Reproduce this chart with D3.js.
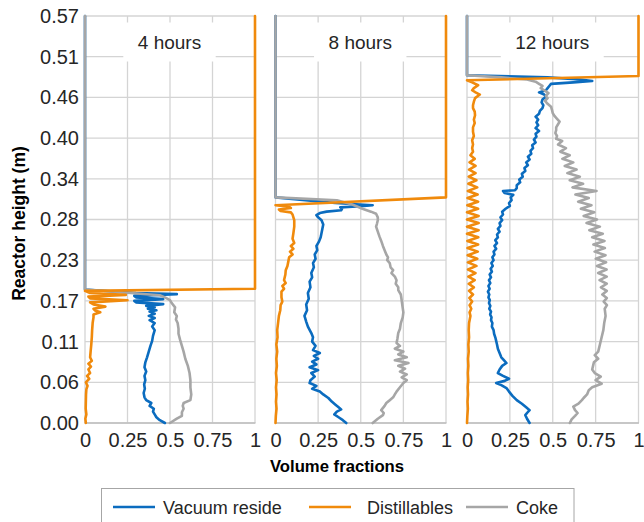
<!DOCTYPE html>
<html><head><meta charset="utf-8">
<script src="https://cdn.jsdelivr.net/npm/d3@7"></script>
<style>body{margin:0;background:#fff} svg{display:block}</style>
</head><body>
<svg id="c" width="644" height="522"></svg>
<script>
// ---------------- DATA ----------------
const panelTitles = ["4 hours", "8 hours", "12 hours"];
const seriesNames = ["Vacuum reside", "Distillables", "Coke"];
const yTickValues = [0, 0.057, 0.114, 0.171, 0.228, 0.285, 0.342, 0.399, 0.456, 0.513, 0.57];
const yTickLabels = ["0.00","0.06","0.11","0.17","0.23","0.28","0.34","0.40","0.46","0.51","0.57"];
const xTickValues = [0, 0.25, 0.5, 0.75, 1];
const xTickLabels = ["0","0.25","0.5","0.75","1"];

// [height (m), volume fraction]
const vacuum4 = [[0.57,0],[0.187,0],[0.182,0.30],[0.1805,0.54],[0.178,0.29],[0.176,0.30],[0.1735,0.46],[0.171,0.29],[0.169,0.30],[0.1665,0.46],[0.164,0.36],[0.162,0.41],[0.16,0.37],[0.158,0.42],[0.156,0.38],[0.153,0.41],[0.15,0.375],[0.147,0.41],[0.144,0.38],[0.14,0.41],[0.135,0.395],[0.13,0.41],[0.122,0.40],[0.115,0.395],[0.108,0.385],[0.1,0.375],[0.092,0.365],[0.085,0.355],[0.078,0.35],[0.072,0.36],[0.066,0.35],[0.06,0.355],[0.054,0.348],[0.048,0.352],[0.042,0.345],[0.036,0.35],[0.032,0.36],[0.028,0.39],[0.024,0.38],[0.02,0.405],[0.016,0.40],[0.012,0.41],[0.008,0.42],[0.004,0.44],[0,0.47]];
const distill4 = [[0.57,1],[0.188,1],[0.185,0],[0.182,0.03],[0.1795,0.24],[0.177,0.02],[0.1745,0.03],[0.172,0.25],[0.169,0.03],[0.166,0.05],[0.163,0.12],[0.16,0.05],[0.1575,0.06],[0.155,0.09],[0.152,0.05],[0.148,0.05],[0.14,0.045],[0.13,0.042],[0.12,0.04],[0.11,0.037],[0.1,0.033],[0.092,0.03],[0.087,0.04],[0.083,0.02],[0.079,0.035],[0.075,0.02],[0.07,0.03],[0.066,0.012],[0.062,0.025],[0.057,0.005],[0.052,0.015],[0.047,0.008],[0.04,0.006],[0.03,0.005],[0.02,0.004],[0.012,0.008],[0.006,0.002],[0,0.005]];
const coke4 = [[0.57,0],[0.187,0],[0.179,0.44],[0.176,0.47],[0.172,0.50],[0.168,0.51],[0.162,0.53],[0.155,0.525],[0.15,0.54],[0.145,0.535],[0.14,0.545],[0.132,0.55],[0.125,0.55],[0.116,0.56],[0.108,0.57],[0.1,0.58],[0.09,0.59],[0.08,0.605],[0.07,0.615],[0.06,0.62],[0.05,0.62],[0.04,0.625],[0.032,0.62],[0.028,0.58],[0.024,0.575],[0.02,0.58],[0.015,0.57],[0.01,0.57],[0.006,0.54],[0,0.50]];

const vacuum8 = [[0.57,0],[0.316,0],[0.308,0.35],[0.305,0.57],[0.3035,0.50],[0.302,0.38],[0.300,0.39],[0.298,0.385],[0.296,0.30],[0.294,0.26],[0.291,0.24],[0.288,0.25],[0.284,0.27],[0.278,0.28],[0.272,0.275],[0.266,0.27],[0.26,0.265],[0.254,0.255],[0.248,0.24],[0.242,0.245],[0.236,0.23],[0.23,0.235],[0.224,0.22],[0.218,0.225],[0.21,0.21],[0.204,0.215],[0.198,0.20],[0.19,0.205],[0.182,0.19],[0.174,0.195],[0.166,0.18],[0.158,0.185],[0.15,0.17],[0.142,0.18],[0.135,0.19],[0.126,0.21],[0.12,0.22],[0.114,0.215],[0.108,0.235],[0.102,0.22],[0.098,0.26],[0.094,0.225],[0.09,0.25],[0.086,0.215],[0.082,0.24],[0.078,0.20],[0.074,0.25],[0.07,0.21],[0.065,0.23],[0.06,0.205],[0.056,0.20],[0.052,0.24],[0.048,0.215],[0.044,0.26],[0.04,0.28],[0.035,0.31],[0.03,0.33],[0.026,0.35],[0.022,0.37],[0.019,0.385],[0.016,0.36],[0.012,0.345],[0.008,0.37],[0.004,0.395],[0,0.415]];
const distill8 = [[0.57,1],[0.316,1],[0.305,0],[0.303,0.08],[0.301,0.09],[0.299,0.02],[0.297,0.03],[0.295,0.09],[0.292,0.1],[0.288,0.105],[0.284,0.11],[0.275,0.11],[0.266,0.105],[0.258,0.10],[0.252,0.11],[0.248,0.09],[0.244,0.105],[0.24,0.085],[0.236,0.1],[0.232,0.08],[0.226,0.075],[0.22,0.07],[0.214,0.06],[0.208,0.058],[0.2,0.05],[0.196,0.06],[0.192,0.04],[0.188,0.05],[0.184,0.035],[0.176,0.035],[0.17,0.04],[0.165,0.03],[0.158,0.028],[0.15,0.02],[0.14,0.015],[0.13,0.01],[0.12,0.012],[0.11,0.005],[0.1,0.01],[0.09,0.005],[0.08,0.008],[0.07,0.003],[0.06,0.007],[0.05,0.003],[0.04,0.006],[0.03,0.003],[0.02,0.006],[0.01,0.002],[0,0]];
const coke8 = [[0.57,0],[0.316,0],[0.312,0.36],[0.306,0.45],[0.300,0.51],[0.296,0.56],[0.293,0.59],[0.288,0.60],[0.284,0.60],[0.279,0.595],[0.275,0.59],[0.268,0.60],[0.261,0.61],[0.255,0.62],[0.248,0.63],[0.242,0.64],[0.236,0.65],[0.232,0.66],[0.228,0.655],[0.224,0.67],[0.218,0.675],[0.214,0.69],[0.21,0.68],[0.205,0.70],[0.2,0.71],[0.195,0.705],[0.19,0.72],[0.186,0.72],[0.18,0.735],[0.172,0.74],[0.163,0.745],[0.155,0.75],[0.148,0.746],[0.14,0.735],[0.132,0.73],[0.126,0.72],[0.118,0.715],[0.112,0.71],[0.108,0.73],[0.104,0.70],[0.1,0.75],[0.096,0.72],[0.092,0.77],[0.088,0.70],[0.084,0.78],[0.08,0.72],[0.076,0.76],[0.072,0.73],[0.068,0.77],[0.064,0.74],[0.06,0.77],[0.056,0.75],[0.05,0.73],[0.044,0.71],[0.04,0.70],[0.036,0.69],[0.032,0.67],[0.028,0.65],[0.024,0.64],[0.018,0.62],[0.014,0.635],[0.011,0.63],[0.006,0.60],[0,0.57]];

const vacuum12 = [[0.57,0],[0.487,0],[0.484,0.47],[0.481,0.66],[0.479,0.73],[0.477,0.62],[0.475,0.49],[0.472,0.48],[0.469,0.47],[0.466,0.46],[0.463,0.42],[0.46,0.45],[0.457,0.46],[0.453,0.44],[0.449,0.435],[0.445,0.445],[0.441,0.44],[0.437,0.425],[0.433,0.42],[0.429,0.40],[0.425,0.415],[0.421,0.405],[0.417,0.415],[0.413,0.40],[0.409,0.42],[0.405,0.40],[0.401,0.405],[0.397,0.39],[0.393,0.40],[0.389,0.38],[0.385,0.385],[0.381,0.37],[0.377,0.375],[0.373,0.355],[0.369,0.365],[0.365,0.345],[0.361,0.355],[0.357,0.335],[0.353,0.34],[0.349,0.32],[0.345,0.325],[0.341,0.305],[0.337,0.31],[0.333,0.29],[0.329,0.29],[0.326,0.28],[0.325,0.21],[0.322,0.22],[0.3195,0.27],[0.316,0.255],[0.312,0.26],[0.308,0.245],[0.304,0.25],[0.3,0.225],[0.296,0.205],[0.292,0.21],[0.288,0.195],[0.284,0.205],[0.28,0.19],[0.276,0.195],[0.272,0.18],[0.268,0.19],[0.264,0.175],[0.26,0.18],[0.256,0.165],[0.252,0.175],[0.248,0.16],[0.244,0.17],[0.24,0.155],[0.236,0.16],[0.232,0.148],[0.228,0.155],[0.224,0.142],[0.22,0.15],[0.216,0.138],[0.212,0.145],[0.208,0.132],[0.204,0.14],[0.2,0.128],[0.196,0.136],[0.192,0.125],[0.188,0.132],[0.184,0.122],[0.18,0.13],[0.176,0.125],[0.172,0.133],[0.168,0.128],[0.164,0.136],[0.16,0.13],[0.156,0.14],[0.152,0.135],[0.148,0.143],[0.144,0.14],[0.14,0.148],[0.135,0.145],[0.13,0.155],[0.125,0.158],[0.12,0.165],[0.115,0.17],[0.11,0.175],[0.104,0.18],[0.098,0.19],[0.092,0.20],[0.088,0.215],[0.084,0.23],[0.08,0.205],[0.075,0.19],[0.07,0.18],[0.066,0.21],[0.062,0.245],[0.059,0.22],[0.056,0.17],[0.053,0.2],[0.049,0.23],[0.044,0.245],[0.038,0.265],[0.032,0.29],[0.027,0.32],[0.022,0.345],[0.018,0.365],[0.014,0.35],[0.011,0.34],[0.006,0.35],[0,0.365]];
const distill12 = [[0.57,1],[0.486,1],[0.480,0],[0.477,0.03],[0.473,0.065],[0.469,0.04],[0.466,0.03],[0.463,0.05],[0.46,0.075],[0.455,0.047],[0.45,0.04],[0.445,0.035],[0.441,0.035],[0.436,0.045],[0.431,0.047],[0.425,0.04],[0.42,0.045],[0.414,0.035],[0.408,0.035],[0.402,0.04],[0.396,0.03],[0.39,0.035],[0.385,0.03],[0.38,0.035],[0.375,0.02],[0.37,0.045],[0.365,0.015],[0.36,0.05],[0.355,0.012],[0.35,0.05],[0.345,0.01],[0.34,0.055],[0.335,0.008],[0.33,0.06],[0.325,0.005],[0.32,0.062],[0.315,0.003],[0.31,0.065],[0.305,0.002],[0.3,0.065],[0.295,0],[0.29,0.068],[0.285,0],[0.28,0.068],[0.275,0],[0.27,0.068],[0.265,0],[0.26,0.066],[0.255,0.002],[0.25,0.065],[0.245,0.003],[0.24,0.063],[0.235,0.004],[0.23,0.06],[0.225,0.005],[0.22,0.055],[0.215,0.006],[0.21,0.05],[0.205,0.008],[0.2,0.045],[0.195,0.01],[0.19,0.04],[0.185,0.012],[0.18,0.035],[0.175,0.014],[0.17,0.03],[0.165,0.015],[0.16,0.025],[0.155,0.015],[0.15,0.02],[0.14,0.012],[0.13,0.01],[0.12,0.012],[0.11,0.008],[0.1,0.01],[0.09,0.006],[0.08,0.008],[0.07,0.005],[0.06,0.007],[0.05,0.004],[0.04,0.006],[0.03,0.003],[0.02,0.005],[0.01,0.002],[0,0]];
const coke12 = [[0.57,0],[0.487,0],[0.484,0.2],[0.481,0.35],[0.478,0.40],[0.475,0.42],[0.472,0.44],[0.469,0.43],[0.466,0.45],[0.462,0.475],[0.458,0.46],[0.455,0.47],[0.451,0.455],[0.447,0.47],[0.443,0.49],[0.439,0.495],[0.434,0.50],[0.43,0.51],[0.426,0.525],[0.422,0.54],[0.418,0.53],[0.414,0.52],[0.41,0.52],[0.406,0.515],[0.402,0.525],[0.398,0.52],[0.395,0.555],[0.39,0.531],[0.385,0.577],[0.38,0.544],[0.375,0.599],[0.37,0.556],[0.365,0.62],[0.36,0.57],[0.355,0.639],[0.35,0.585],[0.345,0.658],[0.34,0.599],[0.335,0.677],[0.33,0.615],[0.325,0.755],[0.32,0.632],[0.315,0.71],[0.31,0.648],[0.305,0.726],[0.3,0.664],[0.295,0.742],[0.29,0.68],[0.285,0.758],[0.28,0.697],[0.275,0.775],[0.27,0.713],[0.265,0.792],[0.26,0.73],[0.255,0.802],[0.25,0.737],[0.245,0.804],[0.24,0.744],[0.235,0.808],[0.23,0.751],[0.225,0.811],[0.22,0.758],[0.215,0.814],[0.21,0.765],[0.205,0.815],[0.2,0.773],[0.195,0.815],[0.19,0.781],[0.185,0.815],[0.18,0.789],[0.175,0.815],[0.17,0.797],[0.165,0.816],[0.16,0.803],[0.15,0.808],[0.14,0.80],[0.13,0.795],[0.12,0.785],[0.11,0.775],[0.1,0.765],[0.095,0.745],[0.09,0.765],[0.085,0.74],[0.08,0.735],[0.075,0.73],[0.07,0.745],[0.065,0.78],[0.06,0.75],[0.055,0.785],[0.05,0.73],[0.046,0.71],[0.04,0.70],[0.035,0.68],[0.032,0.67],[0.027,0.65],[0.023,0.62],[0.018,0.63],[0.014,0.645],[0.01,0.63],[0.005,0.61],[0,0.60]];

// ---------------- DRAW ----------------
const seriesByPanel = [
  {"Vacuum reside": vacuum4, "Distillables": distill4, "Coke": coke4},
  {"Vacuum reside": vacuum8, "Distillables": distill8, "Coke": coke8},
  {"Vacuum reside": vacuum12, "Distillables": distill12, "Coke": coke12}
];
const colors = {"Vacuum reside": "#0b6cbf", "Distillables": "#f08a0c", "Coke": "#a6a6a6"};
const drawOrder = ["Vacuum reside", "Coke", "Distillables"];
const FONT = "'Liberation Sans', Arial, sans-serif";
const TXT = "#262626";

const svg = d3.select("#c");
const yTop = 16, yBot = 423;
const ySc = d3.scaleLinear().domain([0, 0.57]).range([yBot, yTop]);
const panelX = [[85, 255], [275.5, 446], [467, 638.5]];

panelTitles.forEach((title, i) => {
  const xSc = d3.scaleLinear().domain([0, 1]).range(panelX[i]);
  const g = svg.append("g");

  // gridlines
  g.append("g").selectAll("line").data(yTickValues).join("line")
    .attr("x1", xSc(0)).attr("x2", xSc(1))
    .attr("y1", d => ySc(d)).attr("y2", d => ySc(d))
    .attr("stroke", "#d4d4d4").attr("stroke-width", 1.3);
  g.append("g").selectAll("line").data(xTickValues).join("line")
    .attr("x1", d => xSc(d)).attr("x2", d => xSc(d))
    .attr("y1", yTop).attr("y2", yBot)
    .attr("stroke", "#d4d4d4").attr("stroke-width", 1.3);
  // bottom axis line
  g.append("line").attr("x1", xSc(0) - 0.5).attr("x2", xSc(1) + 0.5)
    .attr("y1", yBot).attr("y2", yBot).attr("stroke", "#bfbfbf").attr("stroke-width", 1.6);

  // x axis labels
  const xa = g.append("g").attr("transform", `translate(0,${yBot})`)
    .call(d3.axisBottom(xSc).tickValues(xTickValues).tickSize(0).tickPadding(9.5)
      .tickFormat((d, j) => xTickLabels[j]));
  xa.select(".domain").remove();
  xa.selectAll("text").attr("font-family", FONT).attr("font-size", 20).attr("fill", TXT);

  // title with white box
  const cx = (xSc(0) + xSc(1)) / 2 - 0.5;
  const box = g.append("rect").attr("fill", "#fff");
  const t = g.append("text").attr("x", cx).attr("y", 49)
    .attr("text-anchor", "middle").attr("font-family", FONT).attr("font-size", 19)
    .attr("fill", TXT).text(title);
  const w = t.node().getComputedTextLength();
  box.attr("x", cx - w / 2 - 14.5).attr("y", 22.5).attr("width", w + 29).attr("height", 39);

  // series
  const line = d3.line().x(d => xSc(d[1])).y(d => ySc(d[0]));
  drawOrder.forEach(name => {
    g.append("path").datum(seriesByPanel[i][name])
      .attr("d", line).attr("fill", "none")
      .attr("stroke", colors[name]).attr("stroke-width", 2.6)
      .attr("stroke-linejoin", "round").attr("stroke-linecap", "round");
  });
});

// y axis labels
const ya = svg.append("g").attr("transform", `translate(85,0)`)
  .call(d3.axisLeft(ySc).tickValues(yTickValues).tickSize(0).tickPadding(6)
    .tickFormat((d, j) => yTickLabels[j]));
ya.select(".domain").remove();
ya.selectAll("text").attr("font-family", FONT).attr("font-size", 20).attr("fill", TXT);

// axis titles
svg.append("text").attr("transform", "translate(25,223.5) rotate(-90)")
  .attr("text-anchor", "middle").attr("font-family", FONT).attr("font-weight", "bold")
  .attr("font-size", 17.5).attr("fill", "#000").text("Reactor height (m)");
svg.append("text").attr("x", 337).attr("y", 472)
  .attr("text-anchor", "middle").attr("font-family", FONT).attr("font-weight", "bold")
  .attr("font-size", 16.7).attr("fill", "#000").text("Volume fractions");

// legend
const lg = svg.append("g");
lg.append("rect").attr("x", 101.5).attr("y", 488.5).attr("width", 472.5).attr("height", 45)
  .attr("fill", "#fff").attr("stroke", "#a6a6a6").attr("stroke-width", 1);
const legendX = [113, 309, 466];
seriesNames.forEach((name, k) => {
  lg.append("line").attr("x1", legendX[k]).attr("x2", legendX[k] + 42)
    .attr("y1", 507).attr("y2", 507).attr("stroke", colors[name]).attr("stroke-width", 2.6);
  lg.append("text").attr("x", legendX[k] + (k === 1 ? 58 : 50)).attr("y", 513.5)
    .attr("font-family", FONT).attr("font-size", 18).attr("fill", TXT).text(name);
});
</script>
</body></html>
